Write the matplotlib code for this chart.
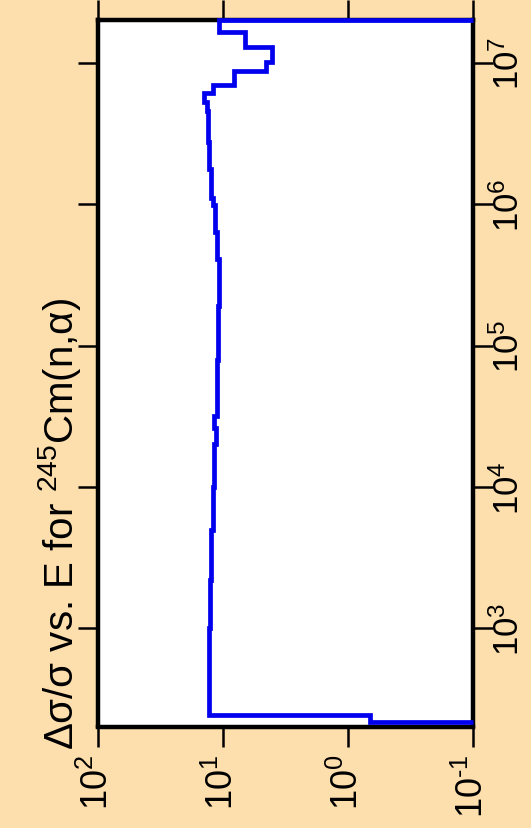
import numpy as np
import matplotlib
matplotlib.use('Agg')
import matplotlib.pyplot as plt
from matplotlib.ticker import FixedLocator, FuncFormatter, NullLocator

plt.rcParams['font.family'] = ['Liberation Sans', 'DejaVu Sans']
plt.rcParams['mathtext.fontset'] = 'custom'
plt.rcParams['mathtext.rm'] = 'Liberation Sans'
plt.rcParams['mathtext.it'] = 'Liberation Sans:italic'

# energy group edges (eV) and relative uncertainty in each group
E_edges = [218, 244, 1.0e3, 2.2e3, 5.0e3, 1.0e4, 2.0e4, 2.6e4, 3.2e4, 7.9e4,
           1.9e5, 4.1e5, 6.3e5, 9.8e5, 1.1e6, 1.78e6, 2.75e6, 4.54e6, 5.26e6,
           6.09e6, 6.93e6, 8.71e6, 1.01e7, 1.29e7, 1.64e7, 2.0e7]
rel_unc = [0.667, 12.9, 12.6, 12.4, 12.0, 11.9, 11.3, 11.7, 11.1, 11.0,
           10.8, 11.1, 11.6, 12.1, 12.5, 12.9, 13.1, 13.5, 14.1, 12.0,
           8.17, 4.53, 4.06, 6.67, 10.8]
floor_val = 0.1

xticks_val = [100, 10, 1, 0.1]
yticks_E = [1e3, 1e4, 1e5, 1e6, 1e7]

# build step path (value horizontal, energy vertical)
xs = [floor_val]
ys = [E_edges[0]]
for i, v in enumerate(rel_unc):
    xs += [v, v]
    ys += [E_edges[i], E_edges[i + 1]]
xs.append(floor_val)
ys.append(E_edges[-1])

fig = plt.figure(figsize=(5.31, 8.29), dpi=100)
fig.patch.set_facecolor('#FDDEAD')
ax = fig.add_axes([98/531, 101.5/829, 375/531, 706.5/829])
ax.set_facecolor('white')

ax.plot(xs, ys, color='#0000EE', lw=3.4, clip_on=False, zorder=3,
        solid_joinstyle='miter', solid_capstyle='butt')

ax.set_xscale('log')
ax.set_yscale('log')
ax.set_xlim(100, 0.1)
ax.set_ylim(10**2.307, 2.0e7)

def log_fmt(v, pos):
    e = int(round(np.log10(v)))
    if e < 0:
        return r'$\mathregular{10^{\text{-}%d}}$' % (-e)
    return r'$\mathregular{10^{%d}}$' % e

ax.xaxis.set_major_locator(FixedLocator(xticks_val))
ax.yaxis.set_major_locator(FixedLocator(yticks_E))
ax.xaxis.set_minor_locator(NullLocator())
ax.yaxis.set_minor_locator(NullLocator())
ax.xaxis.set_major_formatter(FuncFormatter(log_fmt))
ax.yaxis.set_major_formatter(FuncFormatter(log_fmt))

ax.tick_params(axis='x', bottom=True, top=True, labelbottom=True, labeltop=False,
               direction='out', length=14.4, width=1.8, labelsize=26,
               labelrotation=90, pad=5)
ax.tick_params(axis='y', left=True, right=True, labelleft=False, labelright=True,
               direction='out', length=14.4, width=1.8, labelsize=25,
               labelrotation=90, pad=-1)
for lbl in ax.get_yticklabels():
    lbl.set_va('center')

for sp in ax.spines.values():
    sp.set_linewidth(3.2)
    sp.set_color('black')

fig.text(60/531, 79/829, 'Δσ/σ vs. E for $^{245}$Cm(n,α)', rotation=90,
         ha='center', va='bottom', fontsize=29)

fig.savefig('out.png', dpi=100, facecolor=fig.get_facecolor())
